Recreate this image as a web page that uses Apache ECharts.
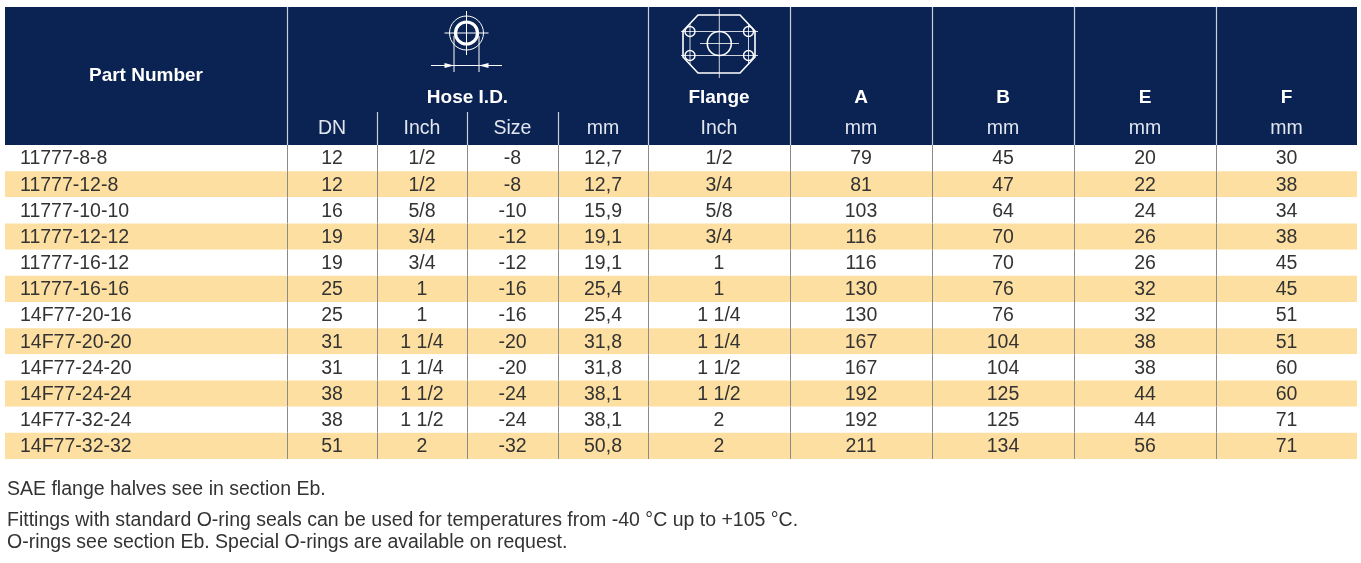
<!doctype html>
<html lang="en">
  <head>
    <meta charset="UTF-8" />
    <title>11777 / 14F77 fittings</title>
    <script src="https://cdn.jsdelivr.net/npm/echarts/dist/echarts.min.js"></script>
  </head>
  <body>
    <div class="main" style="width: 1361px; height: 563px"></div>
  </body>
  <script>
    // table data
    const partNumbers = ["11777-8-8", "11777-12-8", "11777-10-10", "11777-12-12", "11777-16-12", "11777-16-16",
      "14F77-20-16", "14F77-20-20", "14F77-24-20", "14F77-24-24", "14F77-32-24", "14F77-32-32"];
    const hoseDN = ["12", "12", "16", "19", "19", "25", "25", "31", "31", "38", "38", "51"];
    const hoseInch = ["1/2", "1/2", "5/8", "3/4", "3/4", "1", "1", "1 1/4", "1 1/4", "1 1/2", "1 1/2", "2"];
    const hoseSize = ["-8", "-8", "-10", "-12", "-12", "-16", "-16", "-20", "-20", "-24", "-24", "-32"];
    const hoseMm = ["12,7", "12,7", "15,9", "19,1", "19,1", "25,4", "25,4", "31,8", "31,8", "38,1", "38,1", "50,8"];
    const flangeInch = ["1/2", "3/4", "5/8", "3/4", "1", "1", "1 1/4", "1 1/4", "1 1/2", "1 1/2", "2", "2"];
    const dimA = ["79", "81", "103", "116", "116", "130", "130", "167", "167", "192", "192", "211"];
    const dimB = ["45", "47", "64", "70", "70", "76", "76", "104", "104", "125", "125", "134"];
    const dimE = ["20", "22", "24", "26", "26", "32", "32", "38", "38", "44", "44", "56"];
    const dimF = ["30", "38", "34", "38", "45", "45", "51", "51", "60", "60", "71", "71"];

    const mainHeaders = ["Part Number", "Hose I.D.", "Flange", "A", "B", "E", "F"];
    const subHeaders = ["DN", "Inch", "Size", "mm", "Inch", "mm", "mm", "mm", "mm"];
    const notes = [
      "SAE flange halves see in section Eb.",
      "Fittings with standard O-ring seals can be used for temperatures from -40 °C up to +105 °C.",
      "O-rings see section Eb. Special O-rings are available on request.",
    ];

    // layout
    const colEdges = [5, 287, 377, 467, 558, 648, 790, 932, 1074, 1216, 1357];
    const columns = [partNumbers, hoseDN, hoseInch, hoseSize, hoseMm, flangeInch, dimA, dimB, dimE, dimF];
    const headTop = 7, headBottom = 145, subTop = 112;
    const navy = "#0b2352";
    const stripe = "#fddfa1";
    const font = "Liberation Sans, Arial, sans-serif";
    const mid = (i) => (colEdges[i] + colEdges[i + 1]) / 2;

    const myChart = echarts.init(document.querySelector(".main"));

    function renderRow(params, api) {
      const row = api.value(1);
      const c = api.coord([colEdges[0], row]);
      const h = api.size([0, 1])[1];
      const top = c[1] - h / 2;
      const children = [];
      const right = api.coord([colEdges[colEdges.length - 1], row])[0];
      children.push({
        type: "rect",
        shape: { x: c[0], y: top, width: right - c[0], height: h },
        style: { fill: row % 2 === 1 ? stripe : "#ffffff" },
      });
      for (let k = 1; k < colEdges.length - 1; k++) {
        const x = Math.round(api.coord([colEdges[k], row])[0]) + 0.5;
        children.push({
          type: "line",
          shape: { x1: x, y1: top, x2: x, y2: top + h },
          style: { stroke: "#8a8a8a", lineWidth: 1 },
        });
      }
      for (let k = 0; k < columns.length; k++) {
        const x = k === 0 ? api.coord([20, row])[0] : api.coord([mid(k), row])[0];
        children.push({
          type: "text",
          style: {
            text: columns[k][row],
            x: x,
            y: c[1] + 1,
            textAlign: k === 0 ? "left" : "center",
            textVerticalAlign: "middle",
            fill: "#333333",
            font: "19.5px " + font,
          },
        });
      }
      return { type: "group", children: children };
    }

    // header drawings
    const graphics = [];
    graphics.push({
      type: "rect",
      shape: { x: colEdges[0], y: headTop, width: colEdges[10] - colEdges[0], height: headBottom - headTop },
      style: { fill: navy },
    });
    [1, 5, 6, 7, 8, 9].forEach((k) => {
      graphics.push({
        type: "line",
        shape: { x1: colEdges[k] + 0.5, y1: headTop, x2: colEdges[k] + 0.5, y2: headBottom },
        style: { stroke: "#c9cfdb", lineWidth: 1.2 },
      });
    });
    [2, 3, 4].forEach((k) => {
      graphics.push({
        type: "line",
        shape: { x1: colEdges[k] + 0.5, y1: subTop, x2: colEdges[k] + 0.5, y2: headBottom },
        style: { stroke: "#c9cfdb", lineWidth: 1.2 },
      });
    });
    const mainX = [mid(0), (colEdges[1] + colEdges[5]) / 2, mid(5), mid(6), mid(7), mid(8), mid(9)];
    mainHeaders.forEach((t, i) => {
      graphics.push({
        type: "text",
        style: {
          text: t, x: mainX[i], y: i === 0 ? 76 : 98,
          textAlign: "center", textVerticalAlign: "middle",
          fill: "#ffffff", font: "bold 19px " + font,
        },
      });
    });
    subHeaders.forEach((t, i) => {
      graphics.push({
        type: "text",
        style: {
          text: t, x: mid(i + 1), y: 129,
          textAlign: "center", textVerticalAlign: "middle",
          fill: "#e2e6ef", font: "19.5px " + font,
        },
      });
    });

    // hose icon
    const wline = (x1, y1, x2, y2, w) => ({
      type: "line",
      shape: { x1, y1, x2, y2 },
      style: { stroke: "#ffffff", lineWidth: w || 1 },
    });
    const hx = 466.5, hy = 33;
    graphics.push({ type: "circle", shape: { cx: hx, cy: hy, r: 17 }, style: { fill: "none", stroke: "#fff", lineWidth: 1 } });
    graphics.push({ type: "circle", shape: { cx: hx, cy: hy, r: 11 }, style: { fill: "none", stroke: "#fff", lineWidth: 3.2 } });
    graphics.push(wline(hx - 22, hy, hx + 22, hy));
    graphics.push(wline(hx, hy - 22, hx, hy + 22));
    graphics.push(wline(hx - 12.5, hy + 3, hx - 12.5, 72));
    graphics.push(wline(hx + 12.5, hy + 3, hx + 12.5, 72));
    graphics.push(wline(431, 65.5, 502, 65.5));
    graphics.push({ type: "polygon", shape: { points: [[hx - 12.5, 65.5], [hx - 22, 63], [hx - 22, 68]] }, style: { fill: "#fff" } });
    graphics.push({ type: "polygon", shape: { points: [[hx + 12.5, 65.5], [hx + 22, 63], [hx + 22, 68]] }, style: { fill: "#fff" } });

    // flange icon
    const fx = 719.3, fy = 43.5;
    graphics.push({
      type: "polygon",
      shape: { points: [[698, 15], [740, 15], [755, 31], [755, 57], [740, 73], [698, 73], [683, 57], [683, 31]] },
      style: { fill: "none", stroke: "#fff", lineWidth: 1.6 },
    });
    graphics.push({ type: "circle", shape: { cx: fx, cy: fy, r: 12 }, style: { fill: "none", stroke: "#fff", lineWidth: 1.6 } });
    [[690, 31.5], [748.5, 31.5], [690, 55.5], [748.5, 55.5]].forEach((p) => {
      graphics.push({ type: "circle", shape: { cx: p[0], cy: p[1], r: 5 }, style: { fill: "none", stroke: "#fff", lineWidth: 1.4 } });
    });
    graphics.push(wline(681, 31.5, 758, 31.5, 0.8));
    graphics.push(wline(681, 55.5, 758, 55.5, 0.8));
    graphics.push(wline(690, 24, 690, 65, 0.8));
    graphics.push(wline(748.5, 24, 748.5, 65, 0.8));
    graphics.push(wline(fx, 9, fx, 78, 0.8));
    graphics.push(wline(700, fy, 739, fy, 0.8));

    // notes under the table
    [490, 521, 543].forEach((y, i) => {
      graphics.push({
        type: "text",
        style: {
          text: notes[i], x: 7, y: y,
          textAlign: "left", textVerticalAlign: "middle",
          fill: "#333333", font: "19.5px " + font,
        },
      });
    });

    const option = {
      animation: false,
      grid: { left: colEdges[0], right: 1361 - colEdges[10], top: headBottom, bottom: 563 - 459 },
      xAxis: { type: "value", min: colEdges[0], max: colEdges[10], show: false },
      yAxis: { type: "category", data: partNumbers, inverse: true, show: false },
      series: [
        {
          type: "custom",
          renderItem: renderRow,
          encode: { x: 0, y: 1 },
          data: partNumbers.map((p, i) => [colEdges[0], i]),
          silent: true,
        },
      ],
      graphic: graphics,
    };

    myChart.setOption(option);
  </script>
  <style>
    body {
      padding: 0;
      margin: 0;
      background: #fff;
    }
  </style>
</html>
